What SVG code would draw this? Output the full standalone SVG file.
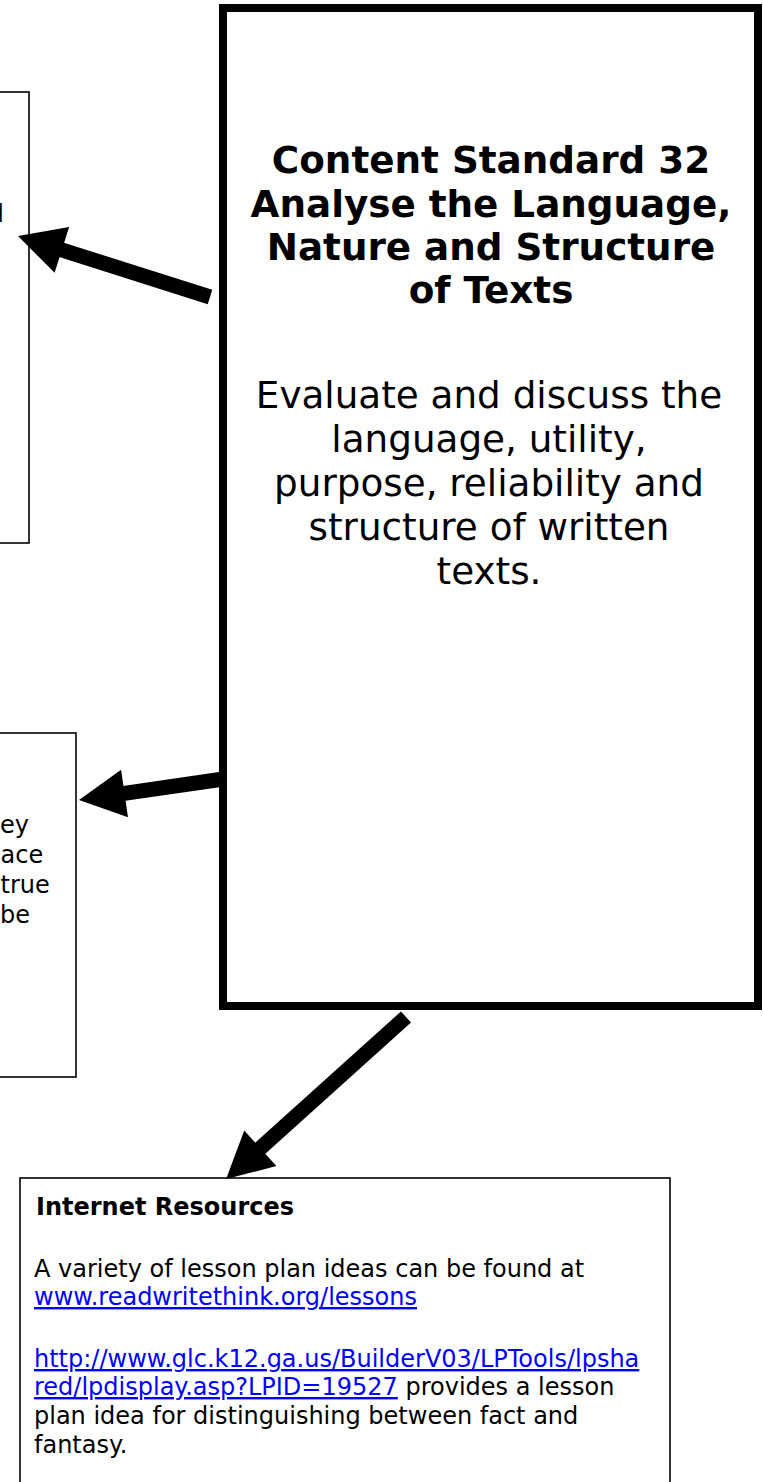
<svg xmlns="http://www.w3.org/2000/svg" width="763" height="1482" viewBox="0 0 763 1482">
<style>
.thin{fill:#fff;stroke:#000;stroke-width:1.6}
.main{fill:#fff;stroke:#000;stroke-width:8}
.t{font-family:"DejaVu Sans",Verdana,sans-serif;fill:#000}
.b{font-weight:bold}
.big{font-size:37.3px}
.sm{font-size:24px}
.lnk{fill:#0000ff;text-decoration:underline}
.arr{stroke:#000;stroke-width:15;fill:none;marker-end:url(#ah)}
</style>
<defs>
<marker id="ah" markerUnits="userSpaceOnUse" viewBox="-50 -26 52 52" markerWidth="52" markerHeight="52" refX="-30" refY="0" orient="auto">
<path d="M0,0 L-46,-24 L-46,24 Z" fill="#000"/>
</marker>
</defs>
<rect width="763" height="1482" fill="#fff"/>
<g id="left-box-1">
<rect class="thin" x="-10" y="92" width="39" height="451"/>
<text class="t sm" x="-2.7" y="222">l</text>
</g>
<g id="left-box-2">
<rect class="thin" x="-10" y="733" width="86" height="344"/>
<text class="t sm"><tspan x="0" y="833">ey</tspan><tspan x="0.5" y="863">ace</tspan><tspan x="0.5" y="893">true</tspan><tspan x="0" y="923">be</tspan></text>
</g>
<g id="content-standard">
<rect class="main" x="223" y="8" width="535" height="998"/>
<text class="t b big" text-anchor="middle"><tspan x="491" y="173">Content Standard 32</tspan><tspan x="491" y="216.5">Analyse the Language,</tspan><tspan x="491" y="260">Nature and Structure</tspan><tspan x="491" y="303">of Texts</tspan></text>
<text class="t big" text-anchor="middle"><tspan x="489" y="408">Evaluate and discuss the</tspan><tspan x="489" y="452">language, utility,</tspan><tspan x="489" y="496">purpose, reliability and</tspan><tspan x="489" y="540">structure of written</tspan><tspan x="489" y="584">texts.</tspan></text>
</g>
<g id="internet-resources">
<rect class="thin" x="20" y="1178" width="650" height="330"/>
<text class="t b sm" x="36" y="1215">Internet Resources</text>
<text class="t sm" x="34" y="1277">A variety of lesson plan ideas can be found at</text>
<text class="t sm lnk" x="34" y="1305">www.readwritethink.org/lessons</text>
<text class="t sm lnk" x="34" y="1367">http://www.glc.k12.ga.us/BuilderV03/LPTools/lpsha</text>
<text class="t sm" x="34" y="1395"><tspan class="lnk">red/lpdisplay.asp?LPID=19527</tspan> provides a lesson</text>
<text class="t sm" x="34" y="1424">plan idea for distinguishing between fact and</text>
<text class="t sm" x="34" y="1453">fantasy.</text>
</g>
<g id="connectors">
<line class="arr" x1="210" y1="297" x2="46.6" y2="245.1"/>
<line class="arr" x1="220" y1="779.5" x2="108.7" y2="795.7"/>
<line class="arr" x1="406" y1="1017" x2="248.4" y2="1159"/>
</g>
</svg>
